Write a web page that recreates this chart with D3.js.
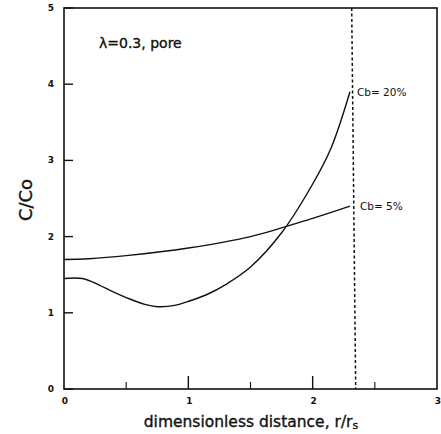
<!DOCTYPE html>
<html>
<head>
<meta charset="utf-8">
<script src="https://cdn.jsdelivr.net/npm/d3@7"></script>
<style>
  body { margin: 0; background: #fff; }
  text { font-family: "DejaVu Sans", "Liberation Sans", Arial, sans-serif; fill: #111; }
  .heavy { stroke: #111; stroke-width: 0.35; }
</style>
</head>
<body>
<div id="chart"></div>
<script>
// curve data
var xCb20 = [0, 0.15, 0.25, 0.4, 0.5, 0.65, 0.75, 0.9, 1.0, 1.15, 1.3, 1.5, 1.75, 2.0, 2.15, 2.3];
var yCb20 = [1.45, 1.45, 1.39, 1.27, 1.20, 1.11, 1.08, 1.10, 1.15, 1.24, 1.37, 1.60, 2.05, 2.69, 3.17, 3.9];
var xCb5 = [0, 0.2, 0.5, 1.0, 1.5, 2.0, 2.3];
var yCb5 = [1.70, 1.71, 1.75, 1.85, 2.0, 2.24, 2.40];
var cutoff = 2.33; // dotted line
var xTicks = [0, 1, 2, 3];
var xMinor = [0.5, 1.5, 2.5];
var yTicks = [0, 1, 2, 3, 4, 5];

var W = 441, H = 434;
var margin = {left: 64, right: 4, top: 8, bottom: 45};

var svg = d3.select("#chart").append("svg")
    .attr("width", W)
    .attr("height", H);

var x = d3.scaleLinear().domain([0, 3]).range([margin.left, W - margin.right]);
var y = d3.scaleLinear().domain([0, 5]).range([H - margin.bottom, margin.top]);

// frame
svg.append("rect")
    .attr("x", x(0)).attr("y", y(5))
    .attr("width", x(3) - x(0)).attr("height", y(0) - y(5))
    .attr("fill", "none").attr("stroke", "#111").attr("stroke-width", 1.6);

// y ticks (inward)
svg.selectAll(".yt").data(yTicks).enter().append("line")
    .attr("x1", x(0)).attr("x2", x(0) + 9)
    .attr("y1", d => y(d)).attr("y2", d => y(d))
    .attr("stroke", "#111").attr("stroke-width", 1.4);
svg.selectAll(".yl").data(yTicks).enter().append("text")
    .attr("x", x(0) - 10).attr("y", d => y(d) + 3)
    .attr("text-anchor", "end")
    .style("font-size", "9px").style("font-weight", "bold")
    .text(d => d);

// x ticks (inward, up)
svg.selectAll(".xt").data(xTicks.slice(1, 3)).enter().append("line")
    .attr("x1", d => x(d)).attr("x2", d => x(d))
    .attr("y1", y(0)).attr("y2", y(0) - 13)
    .attr("stroke", "#111").attr("stroke-width", 1.4);
svg.selectAll(".xm").data(xMinor).enter().append("line")
    .attr("x1", d => x(d)).attr("x2", d => x(d))
    .attr("y1", y(0)).attr("y2", y(0) - 7)
    .attr("stroke", "#111").attr("stroke-width", 1.1);
svg.selectAll(".xl").data(xTicks).enter().append("text")
    .attr("x", d => x(d) + 1).attr("y", y(0) + 15)
    .attr("text-anchor", "middle")
    .style("font-size", "9px").style("font-weight", "bold")
    .text(d => d);

// dotted cutoff line
svg.append("line")
    .attr("x1", x(cutoff) - 2).attr("x2", x(cutoff) + 2)
    .attr("y1", y(5)).attr("y2", y(0))
    .attr("stroke", "#111").attr("stroke-width", 1.5)
    .attr("stroke-dasharray", "3,2.5");

var line = d3.line()
    .x(d => x(d[0]))
    .y(d => y(d[1]))
    .curve(d3.curveCatmullRom);

svg.append("path")
    .attr("d", line(d3.zip(xCb20, yCb20)))
    .attr("fill", "none").attr("stroke", "#111").attr("stroke-width", 1.4);
svg.append("path")
    .attr("d", line(d3.zip(xCb5, yCb5)))
    .attr("fill", "none").attr("stroke", "#111").attr("stroke-width", 1.4);

// curve labels
svg.append("text").attr("x", x(2.3) + 7).attr("y", y(3.9) + 4)
    .style("font-size", "10.5px").text("Cb= 20%");
svg.append("text").attr("x", x(2.3) + 10).attr("y", y(2.4) + 4)
    .style("font-size", "10.5px").text("Cb= 5%");

svg.append("text").attr("class", "heavy").attr("x", 99).attr("y", 48)
    .style("font-size", "14px").text("λ=0.3, pore");

// axis titles
svg.append("text").attr("class", "heavy")
    .attr("transform", "translate(32,200) rotate(-90)")
    .attr("text-anchor", "middle")
    .style("font-size", "18px")
    .text("C/Co");

svg.append("text").attr("class", "heavy")
    .attr("x", 251).attr("y", 427)
    .attr("text-anchor", "middle")
    .style("font-size", "15.5px")
    .html('dimensionless distance, r/r<tspan dy="2" style="font-size:11px">s</tspan>');
</script>
</body>
</html>
